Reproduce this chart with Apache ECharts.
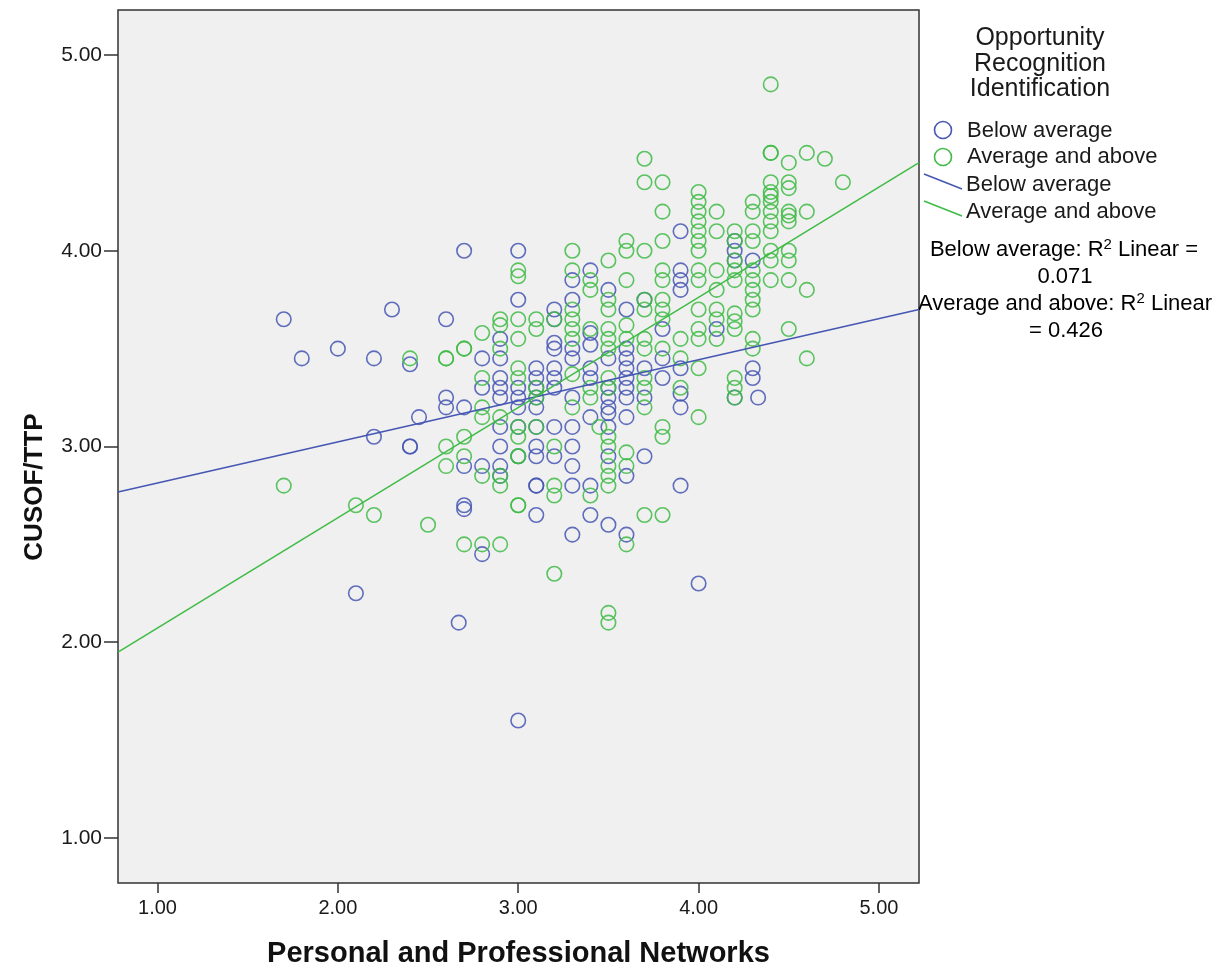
<!DOCTYPE html>
<html>
<head>
<meta charset="utf-8">
<script src="https://cdn.jsdelivr.net/npm/echarts@6.0.0/dist/echarts.min.js"></script>
<style>
html,body{margin:0;padding:0;background:#fff;}
#chart{width:1228px;height:970px;}
</style>
</head>
<body>
<div id="chart"></div>
<script>
// ---- data ----
const xTicks = [1, 2, 3, 4, 5];
const yTicks = [1, 2, 3, 4, 5];
const xRange = [0.781, 5.222];
const yRange = [0.77, 5.23];
const groupNames = ['Below average', 'Average and above'];
const r2Values = ['0.071', '0.426'];
// fitted lines (intercept, slope) as drawn
const belowFit = [2.604, 0.2099];
const aboveFit = [1.510, 0.563];

const belowAverage = [
  [1.7,3.65],[1.8,3.45],[2.0,3.5],[2.1,2.25],[2.2,3.45],[2.2,3.05],[2.3,3.7],
  [2.4,3.42],[2.4,3.0],[2.4,3.0],[2.45,3.15],[2.6,3.65],[2.6,3.25],[2.6,3.2],[2.67,2.1],
  [2.7,4.0],[2.7,3.2],[2.7,2.9],[2.7,2.7],[2.7,2.68],
  [2.8,3.45],[2.8,3.3],[2.8,2.9],[2.8,2.45],
  [2.9,3.55],[2.9,3.45],[2.9,3.35],[2.9,3.3],[2.9,3.25],[2.9,3.1],[2.9,3.0],[2.9,2.9],[2.9,2.85],
  [3.0,4.0],[3.0,3.75],[3.0,3.3],[3.0,3.25],[3.0,3.2],[3.0,3.1],[3.0,2.95],[3.0,1.6],
  [3.1,3.4],[3.1,3.35],[3.1,3.3],[3.1,3.25],[3.1,3.2],[3.1,3.1],[3.1,3.0],[3.1,2.95],[3.1,2.8],[3.1,2.8],[3.1,2.65],
  [3.2,3.7],[3.2,3.65],[3.2,3.53],[3.2,3.5],[3.2,3.4],[3.2,3.35],[3.2,3.3],[3.2,3.1],[3.2,2.95],
  [3.3,3.85],[3.3,3.75],[3.3,3.5],[3.3,3.45],[3.3,3.25],[3.3,3.1],[3.3,3.0],[3.3,2.9],[3.3,2.8],[3.3,2.55],
  [3.4,3.9],[3.4,3.58],[3.4,3.52],[3.4,3.4],[3.4,3.35],[3.4,3.15],[3.4,2.8],[3.4,2.65],
  [3.5,3.8],[3.5,3.45],[3.5,3.3],[3.5,3.25],[3.5,3.2],[3.5,3.17],[3.5,3.1],[3.5,2.95],[3.5,2.6],
  [3.6,3.7],[3.6,3.5],[3.6,3.45],[3.6,3.4],[3.6,3.35],[3.6,3.3],[3.6,3.25],[3.6,3.15],[3.6,2.85],[3.6,2.55],
  [3.7,3.75],[3.7,3.4],[3.7,3.25],[3.7,2.95],
  [3.8,3.6],[3.8,3.45],[3.8,3.35],
  [3.9,4.1],[3.9,3.9],[3.9,3.85],[3.9,3.8],[3.9,3.4],[3.9,3.27],[3.9,3.2],[3.9,2.8],
  [4.0,2.3],[4.1,3.6],
  [4.2,4.05],[4.2,4.0],[4.2,3.95],[4.2,3.25],
  [4.3,3.95],[4.3,3.4],[4.3,3.35],[4.33,3.25]
];

const averageAndAbove = [
  [1.7,2.8],[2.1,2.7],[2.2,2.65],[2.4,3.45],[2.5,2.6],
  [2.6,3.45],[2.6,3.45],[2.6,3.0],[2.6,2.9],
  [2.7,3.5],[2.7,3.5],[2.7,3.05],[2.7,2.95],[2.7,2.5],
  [2.8,3.58],[2.8,3.35],[2.8,3.2],[2.8,3.15],[2.8,2.85],[2.8,2.5],
  [2.9,3.65],[2.9,3.62],[2.9,3.5],[2.9,3.15],[2.9,2.85],[2.9,2.8],[2.9,2.5],
  [3.0,3.9],[3.0,3.87],[3.0,3.65],[3.0,3.55],[3.0,3.4],[3.0,3.35],[3.0,3.1],[3.0,3.05],[3.0,2.95],[3.0,2.95],[3.0,2.7],[3.0,2.7],
  [3.1,3.65],[3.1,3.6],[3.1,3.3],[3.1,3.25],[3.1,3.1],
  [3.2,3.65],[3.2,3.0],[3.2,2.8],[3.2,2.75],[3.2,2.35],
  [3.3,4.0],[3.3,3.9],[3.3,3.7],[3.3,3.65],[3.3,3.6],[3.3,3.55],[3.3,3.37],[3.3,3.2],
  [3.4,3.85],[3.4,3.8],[3.4,3.6],[3.4,3.3],[3.4,3.25],[3.4,2.75],[3.45,3.1],
  [3.5,3.95],[3.5,3.75],[3.5,3.7],[3.5,3.6],[3.5,3.55],[3.5,3.5],[3.5,3.35],[3.5,3.3],[3.5,3.05],[3.5,3.0],[3.5,2.9],[3.5,2.85],[3.5,2.8],[3.5,2.15],[3.5,2.1],
  [3.6,4.05],[3.6,4.0],[3.6,3.85],[3.6,3.62],[3.6,3.55],[3.6,2.97],[3.6,2.9],[3.6,2.5],
  [3.7,4.47],[3.7,4.35],[3.7,4.0],[3.7,3.75],[3.7,3.7],[3.7,3.55],[3.7,3.5],[3.7,3.35],[3.7,3.3],[3.7,3.2],[3.7,2.65],
  [3.8,4.35],[3.8,4.2],[3.8,4.05],[3.8,3.9],[3.8,3.85],[3.8,3.75],[3.8,3.7],[3.8,3.65],[3.8,3.5],[3.8,3.1],[3.8,3.05],[3.8,2.65],
  [3.9,3.55],[3.9,3.45],[3.9,3.3],
  [4.0,4.3],[4.0,4.25],[4.0,4.2],[4.0,4.15],[4.0,4.1],[4.0,4.05],[4.0,4.0],[4.0,3.9],[4.0,3.85],[4.0,3.7],[4.0,3.6],[4.0,3.55],[4.0,3.4],[4.0,3.15],
  [4.1,4.2],[4.1,4.1],[4.1,3.9],[4.1,3.8],[4.1,3.7],[4.1,3.65],[4.1,3.55],
  [4.2,4.1],[4.2,4.05],[4.2,3.95],[4.2,3.9],[4.2,3.85],[4.2,3.68],[4.2,3.64],[4.2,3.6],[4.2,3.35],[4.2,3.3],[4.2,3.25],
  [4.3,4.25],[4.3,4.2],[4.3,4.1],[4.3,4.05],[4.3,3.9],[4.3,3.85],[4.3,3.8],[4.3,3.75],[4.3,3.7],[4.3,3.55],[4.3,3.5],
  [4.4,4.85],[4.4,4.5],[4.4,4.5],[4.4,4.35],[4.4,4.3],[4.4,4.28],[4.4,4.25],[4.4,4.2],[4.4,4.15],[4.4,4.1],[4.4,4.0],[4.4,3.95],[4.4,3.85],
  [4.5,4.45],[4.5,4.35],[4.5,4.32],[4.5,4.2],[4.5,4.18],[4.5,4.15],[4.5,4.0],[4.5,3.95],[4.5,3.85],[4.5,3.6],
  [4.6,4.5],[4.6,4.2],[4.6,3.8],[4.6,3.45],
  [4.7,4.47],[4.8,4.35]
];

// ---- styling ----
const BLUE = '#4556b3';
const GREEN = '#3fbb46';
const FONT = '"Liberation Sans", Arial, sans-serif';

function fitLine(fit){
  return xRange.map(x => [x, fit[0] + fit[1]*x]);
}

const chart = echarts.init(document.getElementById('chart'), null, {renderer:'canvas'});

const txt = '#1a1a1a';
const rich = {
  a: {fontSize: 22, fontFamily: FONT, color: txt, lineHeight: 26},
  s: {fontSize: 15, fontFamily: FONT, color: txt, lineHeight: 26, verticalAlign: 'top'}
};

const option = {
  animation: false,
  backgroundColor: '#ffffff',
  textStyle: {fontFamily: FONT},
  grid: {
    left: 118, right: 309, top: 10, bottom: 87,
    containLabel: false, outerBoundsMode: 'none',
    show: true, backgroundColor: '#f0f0f0', borderColor: '#333', borderWidth: 1.5
  },
  xAxis: {
    type: 'value', min: xRange[0], max: xRange[1],
    axisLine: {show: false},
    splitLine: {show: false},
    axisTick: {show: true, customValues: xTicks, length: 10, lineStyle: {color: '#333', width: 1.5}},
    axisLabel: {customValues: xTicks, formatter: v => v.toFixed(2), fontSize: 20, color: txt, margin: 15, fontFamily: FONT},
    name: 'Personal and Professional Networks',
    nameLocation: 'middle', nameGap: 71,
    nameTextStyle: {fontSize: 29, fontWeight: 'bold', color: '#111', fontFamily: FONT, verticalAlign: 'middle'}
  },
  yAxis: {
    type: 'value', min: yRange[0], max: yRange[1],
    axisLine: {show: false},
    splitLine: {show: false},
    axisTick: {show: true, customValues: yTicks, length: 14, lineStyle: {color: '#333', width: 1.5}},
    axisLabel: {customValues: yTicks, formatter: v => v.toFixed(2), fontSize: 21, color: txt, margin: 16, fontFamily: FONT}
  },
  series: [
    {
      name: groupNames[0], type: 'scatter', data: belowAverage, symbol: 'circle', symbolSize: 14.5,
      itemStyle: {color: 'rgba(0,0,0,0)', borderColor: BLUE, borderWidth: 1.6, opacity: 0.85}, z: 2
    },
    {
      name: groupNames[1], type: 'scatter', data: averageAndAbove, symbol: 'circle', symbolSize: 14.5,
      itemStyle: {color: 'rgba(0,0,0,0)', borderColor: GREEN, borderWidth: 1.6, opacity: 0.85}, z: 2
    },
    {
      name: groupNames[0] + ' fit', type: 'line', data: fitLine(belowFit), symbol: 'none',
      lineStyle: {color: BLUE, width: 1.5}, z: 3
    },
    {
      name: groupNames[1] + ' fit', type: 'line', data: fitLine(aboveFit), symbol: 'none',
      lineStyle: {color: GREEN, width: 1.5}, z: 3
    }
  ],
  graphic: [
    {type: 'text', x: 35, y: 487, rotation: Math.PI/2,
      style: {text: 'CUSOF/TTP', font: 'bold 26px ' + FONT, fill: '#111', textAlign: 'center', textVerticalAlign: 'middle'}},
    {type: 'text', x: 1040, y: 64,
      style: {text: 'Opportunity\nRecognition\nIdentification', font: '25px ' + FONT, lineHeight: 25.5, fill: txt, textAlign: 'center', textVerticalAlign: 'middle'}},
    {type: 'circle', shape: {cx: 943, cy: 130, r: 8.5}, style: {fill: 'none', stroke: BLUE, lineWidth: 1.6}},
    {type: 'circle', shape: {cx: 943, cy: 157, r: 8.5}, style: {fill: 'none', stroke: GREEN, lineWidth: 1.6}},
    {type: 'text', x: 967, y: 131, style: {text: groupNames[0], font: '22px ' + FONT, fill: txt, textVerticalAlign: 'middle'}},
    {type: 'text', x: 967, y: 157, style: {text: groupNames[1], font: '22px ' + FONT, fill: txt, textVerticalAlign: 'middle'}},
    {type: 'line', shape: {x1: 924, y1: 174, x2: 962, y2: 189}, style: {stroke: BLUE, lineWidth: 1.5}},
    {type: 'line', shape: {x1: 924, y1: 201, x2: 962, y2: 216}, style: {stroke: GREEN, lineWidth: 1.5}},
    {type: 'text', x: 966, y: 185, style: {text: groupNames[0], font: '22px ' + FONT, fill: txt, textVerticalAlign: 'middle'}},
    {type: 'text', x: 966, y: 212, style: {text: groupNames[1], font: '22px ' + FONT, fill: txt, textVerticalAlign: 'middle'}},
    {type: 'text', x: 1064, y: 250, style: {text: '{a|' + groupNames[0] + ': R}{s|2}{a| Linear =}', rich: rich, textAlign: 'center', textVerticalAlign: 'middle'}},
    {type: 'text', x: 1065, y: 277, style: {text: '{a|' + r2Values[0] + '}', rich: rich, textAlign: 'center', textVerticalAlign: 'middle'}},
    {type: 'text', x: 1065, y: 304, style: {text: '{a|' + groupNames[1] + ': R}{s|2}{a| Linear}', rich: rich, textAlign: 'center', textVerticalAlign: 'middle'}},
    {type: 'text', x: 1066, y: 331, style: {text: '{a|= ' + r2Values[1] + '}', rich: rich, textAlign: 'center', textVerticalAlign: 'middle'}}
  ]
};
chart.setOption(option);
</script>
</body>
</html>
